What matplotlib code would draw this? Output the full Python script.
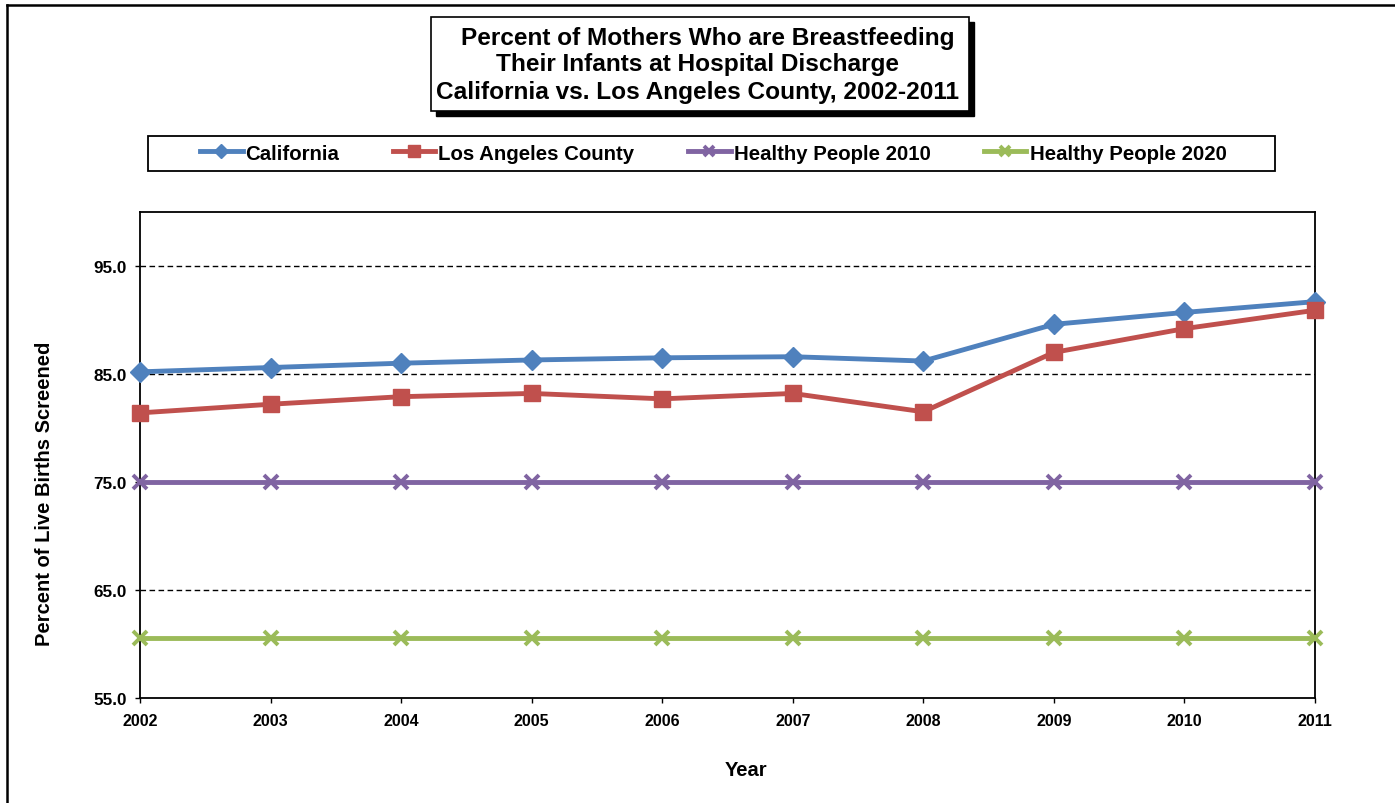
import matplotlib.pyplot as plt
from matplotlib.patches import Rectangle
from matplotlib.lines import Line2D

plt.rcParams['font.family'] = ['Liberation Sans', 'DejaVu Sans']
plt.rcParams['font.weight'] = 'bold'

# data
years = [2002, 2003, 2004, 2005, 2006, 2007, 2008, 2009, 2010, 2011]
california = [85.2, 85.6, 86.0, 86.3, 86.5, 86.6, 86.2, 89.6, 90.7, 91.7]
los_angeles = [81.4, 82.2, 82.9, 83.2, 82.7, 83.2, 81.5, 87.0, 89.2, 90.9]
hp2010 = [75.0] * 10
hp2020 = [60.6] * 10
yticks = [55, 65, 75, 85, 95]

W, H = 1395, 804
fig = plt.figure(figsize=(W / 100, H / 100), dpi=100)
fig.patch.set_facecolor('white')

def fx(px):
    return px / W

def fy(py):
    return 1 - py / H

# outer border (only top and left are visible)
fig.add_artist(Line2D([fx(7), 1.0], [fy(6), fy(6)], color='black', lw=1.8))
fig.add_artist(Line2D([fx(7), fx(7)], [fy(6), 0.0], color='black', lw=1.8))

ax = fig.add_axes([fx(140), fy(699), fx(1315) - fx(140), fy(213) - fy(699)])

series = [
    (california, 'California', '#4F81BD', 'D', 10),
    (los_angeles, 'Los Angeles County', '#C0504D', 's', 12),
    (hp2010, 'Healthy People 2010', '#8064A2', 'x', 10),
    (hp2020, 'Healthy People 2020', '#9BBB59', 'x', 10),
]
handles = []
for vals, name, col, mk, ms in series:
    ln, = ax.plot(years, vals, color=col, lw=3.5, marker=mk, ms=ms,
                  mew=2.8 if mk == 'x' else 1, mec=col, mfc=col,
                  label=name, clip_on=False, zorder=3)
    handles.append(ln)

ax.set_xlim(2002, 2011)
ax.set_ylim(55, 100)
ax.set_yticks(yticks)
ax.set_yticklabels(['%.1f' % v for v in yticks], fontsize=12.3, fontweight='bold')
ax.set_xticks(years)
ax.set_xticklabels([str(y) for y in years], fontsize=11.5, fontweight='bold')
for v in yticks[1:]:
    ax.axhline(v, color='black', lw=1, ls=(0, (4, 2.5)), zorder=1)
ax.tick_params(axis='both', direction='out', length=3.5, width=1)
ax.tick_params(axis='y', pad=6)
ax.tick_params(axis='x', pad=7)
for s in ax.spines.values():
    s.set_linewidth(1.3)

fig.text(fx(746), fy(771), 'Year', ha='center', va='center', fontsize=14.5, fontweight='bold')
fig.text(fx(44), fy(494), 'Percent of Live Births Screened', ha='center', va='center',
         rotation=90, fontsize=14.5, fontweight='bold')

# title box with shadow
tx0, ty0, tx1, ty1 = 431, 18, 969, 112
fig.add_artist(Rectangle((fx(tx0 + 5), fy(ty1 + 5)), fx(tx1 - tx0), fy(ty0) - fy(ty1),
                         facecolor='black', edgecolor='black', lw=1))
fig.add_artist(Rectangle((fx(tx0), fy(ty1)), fx(tx1 - tx0), fy(ty0) - fy(ty1),
                         facecolor='white', edgecolor='black', lw=1.2))
title_lines = ['Percent of Mothers Who are Breastfeeding',
               'Their Infants at Hospital Discharge',
               'California vs. Los Angeles County, 2002-2011']
for line, cx, cy in zip(title_lines, [708, 698, 697], [38, 65, 93]):
    fig.text(fx(cx), fy(cy), line, ha='center', va='center', fontsize=17.6, fontweight='bold')

# legend box
fig.add_artist(Rectangle((fx(148), fy(172)), fx(1275 - 148), fy(137) - fy(172),
                         facecolor='white', edgecolor='black', lw=1.3))
fig.legend(handles=handles, loc='center', bbox_to_anchor=(fx(713), fy(154)),
           ncol=4, frameon=False, prop={'size': 14.7, 'weight': 'bold'},
           handlelength=2.1, handletextpad=0.15, columnspacing=2.6, markerscale=0.7,
           borderpad=0, borderaxespad=0)

plt.savefig('out.png', dpi=100)
